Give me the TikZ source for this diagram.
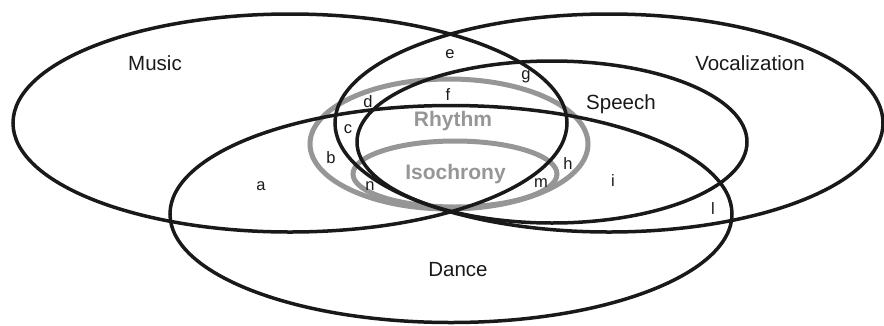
\documentclass[tikz,border=0pt]{standalone}
\usepackage{fontspec}
\setmainfont{Liberation Sans}
\usetikzlibrary{shapes.geometric}
\definecolor{rgray}{RGB}{150,150,150}
\begin{document}
\begin{tikzpicture}[x=1pt,y=-1pt,
  setbox/.style={ellipse,draw=black!90,line width=3.5pt,inner sep=0pt},
  rbox/.style={ellipse,draw=rgray,line width=5pt,inner sep=0pt},
  biglabel/.style={font=\fontsize{20.5}{22}\selectfont,text=black!90,inner sep=0pt},
  glabel/.style={font=\fontsize{21}{22}\selectfont\bfseries,text=rgray,inner sep=0pt},
  small/.style={font=\fontsize{16.5}{17}\selectfont,text=black!90,inner sep=0pt,anchor=base}]
\useasboundingbox (0,0) rectangle (884,325);
% gray sets
\node[rbox,minimum width=278pt,minimum height=130pt] (rhythm) at (449,144) {};
\node[rbox,minimum width=204pt,minimum height=66pt] (iso) at (455,174) {};
% black sets
\node[setbox,minimum width=554pt,minimum height=218pt] (music) at (290,123) {};
\node[setbox,minimum width=548pt,minimum height=218pt] (vocal) at (609,123) {};
\node[setbox,minimum width=562pt,minimum height=217pt] (dance) at (451,214) {};
\node[setbox,minimum width=390pt,minimum height=162pt] (speech) at (552,142) {};
% labels
\node[biglabel] (lmusic) at (155,63) {Music};
\node[biglabel] (lvocal) at (750,63) {Vocalization};
\node[biglabel] (lspeech) at (621,104) {Speech};
\node[biglabel] (ldance) at (458,270) {Dance};
\node[glabel] (lrhythm) at (453,121) {Rhythm};
\node[glabel] (liso) at (455.5,174) {Isochrony};
\node[small] (la) at (261,190) {a};
\node[small] (lb) at (331,163) {b};
\node[small] (lc) at (348,133) {c};
\node[small] (ld) at (368,107) {d};
\node[small] (le) at (450,58) {e};
\node[small] (lf) at (448,100) {f};
\node[small] (lg) at (526,79) {g};
\node[small] (lh) at (568,169) {h};
\node[small] (li) at (613,186) {i};
\node[small] (ll) at (713,214) {l};
\node[small] (lm) at (541,187) {m};
\node[small] (ln) at (370,190) {n};
\end{tikzpicture}
\end{document}
